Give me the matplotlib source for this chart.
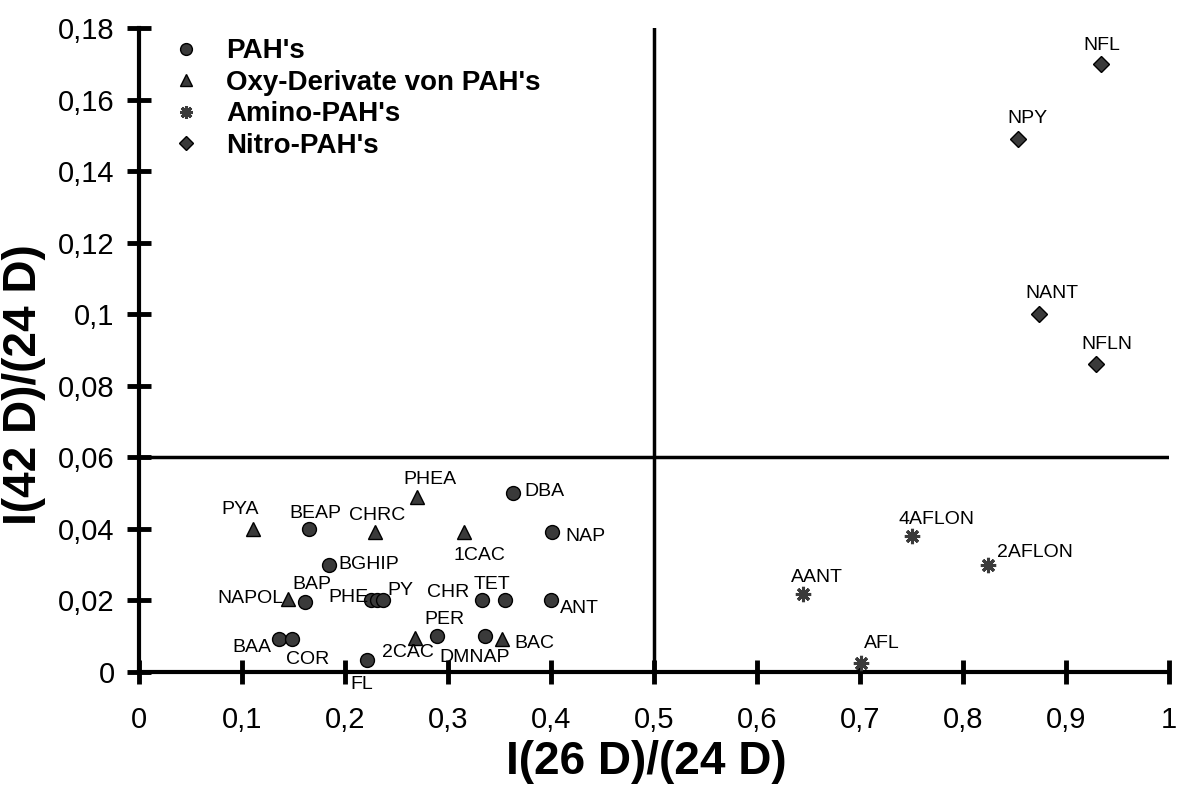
import matplotlib
matplotlib.use("Agg")
import matplotlib.pyplot as plt

plt.rcParams['font.family'] = ['Liberation Sans', 'DejaVu Sans']

# PAH's (circles)
pah_names = ['BEAP', 'DBA', 'NAP', 'BGHIP', 'BAP', 'PHE', '', 'PY', 'CHR', 'TET',
             'ANT', 'PER', 'DMNAP', 'BAA', 'COR', 'FL']
pah_x = [0.165, 0.363, 0.401, 0.184, 0.161, 0.225, 0.231, 0.237, 0.333, 0.355,
         0.400, 0.289, 0.336, 0.136, 0.149, 0.221]
pah_y = [0.040, 0.050, 0.039, 0.030, 0.0195, 0.020, 0.020, 0.020, 0.020, 0.020,
         0.020, 0.0102, 0.0102, 0.0093, 0.0093, 0.0034]

# Oxy-Derivate (triangles)
oxy_names = ['PYA', 'CHRC', 'PHEA', '1CAC', 'NAPOL', '2CAC', 'BAC']
oxy_x = [0.111, 0.229, 0.270, 0.316, 0.145, 0.268, 0.352]
oxy_y = [0.040, 0.039, 0.049, 0.039, 0.0205, 0.0095, 0.0093]

# Amino-PAH's (stars)
amino_names = ['AANT', '4AFLON', '2AFLON', 'AFL']
amino_x = [0.645, 0.750, 0.824, 0.701]
amino_y = [0.0218, 0.038, 0.030, 0.0025]

# Nitro-PAH's (diamonds)
nitro_names = ['NFL', 'NPY', 'NANT', 'NFLN']
nitro_x = [0.934, 0.853, 0.874, 0.929]
nitro_y = [0.170, 0.149, 0.100, 0.086]

x_ticks = [0, 0.1, 0.2, 0.3, 0.4, 0.5, 0.6, 0.7, 0.8, 0.9, 1]
x_ticklabels = ['0', '0,1', '0,2', '0,3', '0,4', '0,5', '0,6', '0,7', '0,8', '0,9', '1']
y_ticks = [0, 0.02, 0.04, 0.06, 0.08, 0.1, 0.12, 0.14, 0.16, 0.18]
y_ticklabels = ['0', '0,02', '0,04', '0,06', '0,08', '0,1', '0,12', '0,14', '0,16', '0,18']

# label offsets in pixels (dx, dy, ha)
label_pos = {
    'BEAP': (6, 15, 'center'), 'DBA': (11, 2, 'left'), 'NAP': (13, -4, 'left'),
    'BGHIP': (10, 0, 'left'), 'BAP': (7, 18, 'center'), 'PHE': (-2, 3, 'right'),
    'PY': (17, 10, 'center'), 'CHR': (-34, 8, 'center'), 'TET': (-13, 16, 'center'),
    'ANT': (9, -8, 'left'), 'PER': (8, 16, 'center'), 'DMNAP': (-10, -22, 'center'),
    'BAA': (-27, -9, 'center'), 'COR': (15, -21, 'center'), 'FL': (-5, -25, 'center'),
    'PYA': (-13, 19, 'center'), 'CHRC': (2, 17, 'center'), 'PHEA': (13, 17, 'center'),
    '1CAC': (15, -23, 'center'), 'NAPOL': (-5, 0, 'right'), '2CAC': (-7, -14, 'center'),
    'BAC': (33, -5, 'center'),
    'AANT': (14, 17, 'center'), '4AFLON': (25, 17, 'center'), '2AFLON': (9, 12, 'left'),
    'AFL': (21, 20, 'center'),
    'NFL': (1, 18, 'center'), 'NPY': (10, 20, 'center'), 'NANT': (13, 21, 'center'),
    'NFLN': (11, 20, 'center'),
}

fig = plt.figure(figsize=(11.81, 7.87), dpi=100)
# axes box: x 139..1169 px, y 28..672 px
ax = fig.add_axes([139 / 1181, 1 - 672 / 787, 1030 / 1181, 644 / 787])

fc = '#3a3a3a'
ax.plot(pah_x, pah_y, 'o', ms=10, mfc=fc, mec='black', mew=1, ls='none',
        label="PAH's", clip_on=False, zorder=3)
ax.plot(oxy_x, oxy_y, '^', ms=10.5, mfc=fc, mec='black', mew=1, ls='none',
        label="Oxy-Derivate von PAH's", clip_on=False, zorder=3)
ax.plot(amino_x, amino_y, marker=(8, 2, 0), ms=11, mec=fc, mew=2.2, ls='none',
        label="Amino-PAH's", clip_on=False, zorder=3)
ax.plot(nitro_x, nitro_y, 'D', ms=8, mfc=fc, mec='black', mew=1, ls='none',
        label="Nitro-PAH's", clip_on=False, zorder=3)

for names, xs, ys in [(pah_names, pah_x, pah_y), (oxy_names, oxy_x, oxy_y),
                      (amino_names, amino_x, amino_y), (nitro_names, nitro_x, nitro_y)]:
    for n, x, y in zip(names, xs, ys):
        if not n:
            continue
        dx, dy, ha = label_pos[n]
        ax.annotate(n, (x, y), xytext=(dx * 0.72, dy * 0.72), textcoords='offset points',
                    ha=ha, va='center', fontsize=14, zorder=4)

ax.axvline(0.5, color='black', lw=2.5, zorder=2)
ax.axhline(0.06, color='black', lw=2.5, zorder=2)

ax.set_xlim(0, 1)
ax.set_ylim(0, 0.18)
ax.set_xticks(x_ticks)
ax.set_xticklabels(x_ticklabels)
ax.set_yticks(y_ticks)
ax.set_yticklabels(y_ticklabels)
for s in ['top', 'right']:
    ax.spines[s].set_visible(False)
for s in ['left', 'bottom']:
    ax.spines[s].set_linewidth(3)
ax.tick_params(axis='both', direction='inout', length=17, width=3.5, labelsize=21)
ax.tick_params(axis='x', pad=16)
ax.tick_params(axis='y', pad=9)

ax.set_xlabel('I(26 D)/(24 D)', fontsize=33, fontweight='bold', va='center', ha='center')
ax.set_ylabel('I(42 D)/(24 D)', fontsize=33, fontweight='bold', va='center', ha='center')
# label centres at about (646, 762) and (24, 385) px
ax.xaxis.set_label_coords((646 - 139) / 1030, (672 - 762) / 644)
ax.yaxis.set_label_coords((24 - 139) / 1030, (672 - 385) / 644)

leg = ax.legend(loc='upper left', bbox_to_anchor=(0.016, 1.01), frameon=False,
                prop={'weight': 'bold', 'size': 20}, handletextpad=0.95,
                labelspacing=0.2, markerscale=0.85, handlelength=1.0,
                borderaxespad=0.2)

fig.savefig('out.png', dpi=100)
